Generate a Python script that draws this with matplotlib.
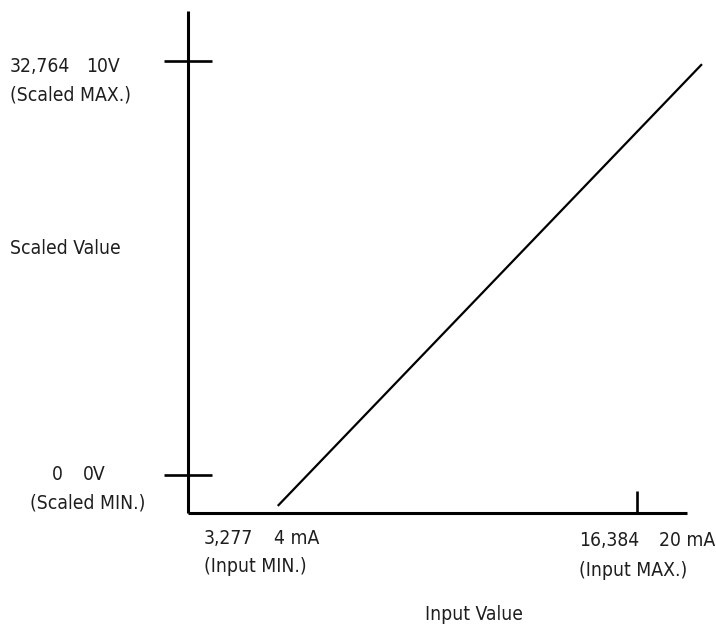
import matplotlib
matplotlib.use("Agg")
from matplotlib import pyplot as plt
from matplotlib import font_manager as fm

# scaling diagram: input counts vs scaled counts
input_min = 3277
input_max = 16384
scaled_min = 0
scaled_max = 32764

# the drawn line (schematic)
line_x = [3277, 18760]
line_y = [-2460, 32520]

x_range = (0, 18214)
y_range = (-3022, 36730)

W, H = 716, 626


def px(x, y):
    return x / W, 1 - y / H


# the reference uses a condensed face; take one if there is one
def pick_font():
    fonts = fm.fontManager.ttflist
    for f in fonts:
        if f.name == "Liberation Sans Narrow" and f.style == "normal" and f.weight in (400, "normal"):
            return fm.FontProperties(fname=f.fname)
    for f in fonts:
        if f.name in ("DejaVu Sans", "Noto Sans", "Open Sans", "Roboto") and \
                f.stretch in ("condensed", "semi-condensed") and f.style == "normal" \
                and f.weight in (400, "normal"):
            return fm.FontProperties(fname=f.fname)
    return fm.FontProperties(family="Liberation Sans")


fig = plt.figure(figsize=(W / 100, H / 100), dpi=100)
prop = pick_font()

# fit the size so that "(Input MAX.)" is about as wide as in the reference
renderer = fig.canvas.get_renderer()
prop.set_size(10)
w10, _, _ = renderer.get_text_width_height_descent("(Input MAX.)", prop, ismath=False)
FS = min(16.5, 10 * 108 / w10)
prop.set_size(FS)

left, right, top, bottom = 188, 687, 11, 513
ax = fig.add_axes([left / W, 1 - bottom / H, (right - left) / W, (bottom - top) / H])
ax.set_xlim(*x_range)
ax.set_ylim(*y_range)

for s in ("top", "right"):
    ax.spines[s].set_visible(False)
for s in ("left", "bottom"):
    ax.spines[s].set_linewidth(2.2)
    ax.spines[s].set_capstyle("butt")

ax.set_yticks([scaled_min, scaled_max])
ax.set_xticks([input_max])
ax.tick_params(axis="y", direction="inout", length=34, width=1.9, labelleft=False)
ax.tick_params(axis="x", direction="in", length=15.5, width=1.9, labelbottom=False)

ax.plot(line_x, line_y, color="black", lw=1.6, clip_on=False, solid_capstyle="butt")

labels = [
    (10, 66, "32,764"), (86, 66, "10V"), (10, 95, "(Scaled MAX.)"),
    (10, 249, "Scaled Value"),
    (52, 474, "0"), (83, 474, "0V"), (30, 503, "(Scaled MIN.)"),
    (204, 538, "3,277"), (274, 538, "4 mA"), (204, 567, "(Input MIN.)"),
    (579, 541, "16,384"), (659, 541, "20 mA"), (579, 571, "(Input MAX.)"),
    (425, 615, "Input Value"),
]
for x, y, t in labels:
    fig.text(*px(x, y), t, fontproperties=prop, ha="left", va="center", color="#1e1e1e")

fig.savefig("out.png", dpi=100)
